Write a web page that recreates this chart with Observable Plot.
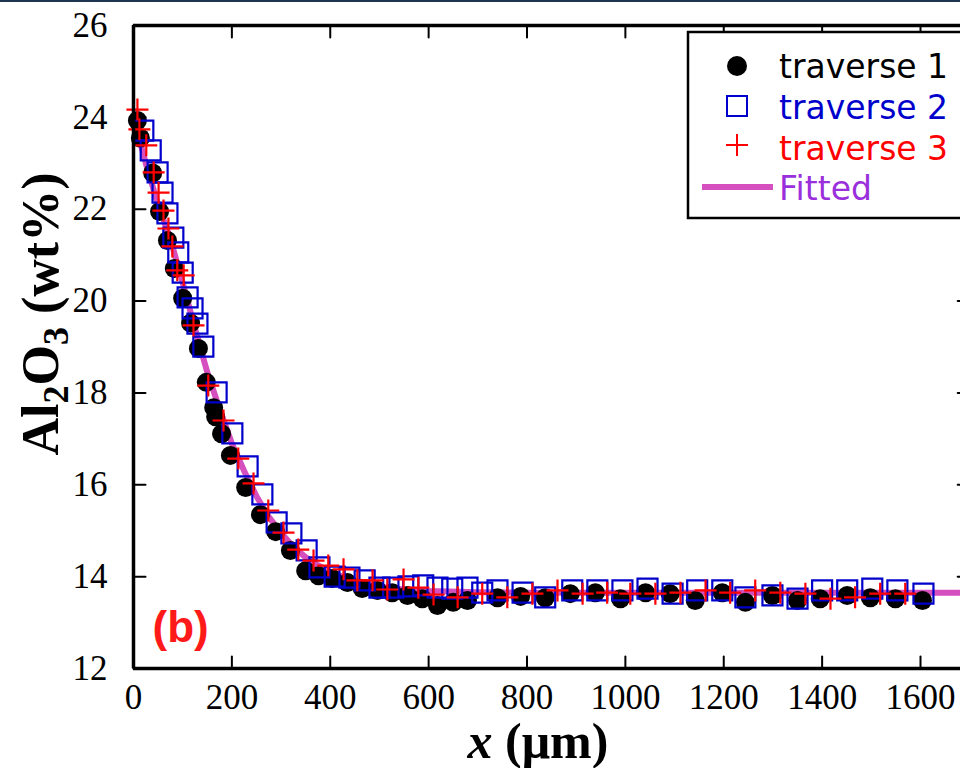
<!DOCTYPE html>
<html><head><meta charset="utf-8">
<script src="https://cdn.jsdelivr.net/npm/d3@7"></script>
<script src="https://cdn.jsdelivr.net/npm/@observablehq/plot@0.6"></script>
<style>html,body{margin:0;padding:0;background:#fff;overflow:hidden;width:960px;height:768px}</style>
</head><body><div id="chart"></div>
<script>
const xTicks = [0, 200, 400, 600, 800, 1000, 1200, 1400, 1600];
const yTicks = [12, 14, 16, 18, 20, 22, 24, 26];

const traverse1 = [[8,23.93],[14,23.55],[39,22.79],[53,21.95],[69,21.32],[83,20.71],[100,20.06],[116,19.52],[132,18.97],[148,18.23],[163,17.68],[167,17.48],[179,17.11],[197,16.64],[228,15.94],[258,15.35],[289,14.98],[319,14.57],[350,14.13],[376,14.02],[404,13.96],[435,13.87],[465,13.74],[496,13.70],[526,13.65],[557,13.59],[587,13.52],[618,13.37],[650,13.44],[679,13.48],[740,13.54],[787,13.57],[837,13.54],[888,13.63],[939,13.65],[990,13.52],[1041,13.65],[1091,13.63],[1142,13.48],[1197,13.65],[1244,13.44],[1299,13.59],[1350,13.48],[1396,13.52],[1451,13.59],[1498,13.54],[1549,13.52],[1604,13.48]];

const traverse2 = [[20,23.71],[35,23.28],[49,22.80],[59,22.36],[69,21.91],[81,21.38],[91,21.06],[100,20.62],[110,20.08],[120,19.84],[130,19.51],[142,19.01],[169,18.01],[201,17.12],[232,16.40],[262,15.79],[291,15.18],[321,14.94],[352,14.57],[378,14.20],[409,14.00],[439,13.98],[470,13.92],[500,13.76],[528,13.76],[559,13.79],[589,13.81],[618,13.76],[648,13.74],[679,13.76],[709,13.65],[740,13.70],[791,13.65],[837,13.55],[892,13.70],[943,13.70],[994,13.70],[1045,13.74],[1096,13.63],[1146,13.70],[1197,13.70],[1244,13.55],[1299,13.59],[1350,13.52],[1400,13.70],[1451,13.70],[1502,13.74],[1553,13.70],[1606,13.63]];

const traverse3 = [[8,24.17],[12,23.74],[26,23.39],[41,22.80],[51,22.36],[61,21.97],[71,21.58],[79,21.19],[89,20.67],[102,20.56],[122,19.47],[152,18.16],[183,17.40],[213,16.57],[244,16.03],[274,15.44],[305,14.96],[335,14.59],[366,14.35],[396,14.24],[427,14.16],[455,13.92],[486,13.92],[516,13.72],[549,13.94],[579,13.76],[610,13.61],[659,13.55],[709,13.63],[760,13.55],[811,13.63],[862,13.70],[913,13.63],[963,13.65],[1010,13.63],[1061,13.63],[1112,13.65],[1163,13.70],[1213,13.65],[1264,13.70],[1315,13.65],[1366,13.63],[1417,13.52],[1467,13.55],[1518,13.63],[1569,13.63]];

const fitX = [0, 25, 50, 75, 100, 125, 150, 175, 200, 225, 250, 275, 300, 325, 350, 375, 400, 450, 500, 550, 600, 700, 800, 1000, 1750];
const fitY = [24.0, 23.0, 22.1, 21.35, 20.4, 19.4, 18.45, 17.65, 16.9, 16.3, 15.75, 15.3, 14.95, 14.65, 14.42, 14.25, 14.1, 13.9, 13.78, 13.72, 13.69, 13.66, 13.65, 13.65, 13.65];
const fitted = fitX.map((x, i) => ({x, y: fitY[i]}));

const legendLabels = ["traverse 1", "traverse 2", "traverse 3", "Fitted"];
const colors = {t1: "#000000", t2: "#0000cc", t3: "#ff0000", fit: "#d64fbf", fitText: "#9a2fdc"};

const tickShape = {draw(ctx, l) { ctx.moveTo(0, 0); ctx.lineTo(0, -l); }};
const plusSym = {draw(ctx, size) { const r = Math.sqrt(size / Math.PI); ctx.moveTo(-r, 0); ctx.lineTo(r, 0); ctx.moveTo(0, -r); ctx.lineTo(0, r); }};
const squareSym = {draw(ctx, size) { const r = Math.sqrt(size / Math.PI); ctx.rect(-r, -r, 2 * r, 2 * r); }};

const serif = "Liberation Serif";
const X = d => d[0], Y = d => d[1];
const chart = Plot.plot({
  width: 960, height: 768,
  marginLeft: 133, marginRight: 0, marginTop: 25, marginBottom: 100,
  style: {fontFamily: serif, fontSize: "34px", background: "white", color: "black"},
  x: {domain: [0, 1600], range: [133, 920], axis: null},
  y: {domain: [12, 26], range: [668, 25], axis: null},
  marks: [
    Plot.text(xTicks, {x: d => d, y: 12, dy: 29, text: d => String(d), fontFamily: serif, fontSize: 35, fill: "black", lineAnchor: "middle"}),
    Plot.text(yTicks, {x: 0, y: d => d, dx: -26, text: d => String(d), fontFamily: serif, fontSize: 35, fill: "black", textAnchor: "end", lineAnchor: "middle"}),
    Plot.vector(xTicks, {x: d => d, y: 12, length: 12, rotate: 0, anchor: "start", shape: tickShape, stroke: "black", strokeWidth: 2}),
    Plot.vector(xTicks, {x: d => d, y: 26, length: 12, rotate: 180, anchor: "start", shape: tickShape, stroke: "black", strokeWidth: 2}),
    Plot.vector(yTicks, {x: 0, y: d => d, length: 12, rotate: 90, anchor: "start", shape: tickShape, stroke: "black", strokeWidth: 2}),
    Plot.vector(yTicks, {x: 1700, y: d => d, length: 12, rotate: 270, anchor: "start", shape: tickShape, stroke: "black", strokeWidth: 2}),
    Plot.line(fitted, {x: "x", y: "y", stroke: colors.fit, strokeWidth: 6}),
    Plot.dot(traverse1, {x: X, y: Y, r: 9.5, fill: colors.t1}),
    Plot.dot(traverse2, {x: X, y: Y, r: 10, symbol: squareSym, fill: "none", stroke: colors.t2, strokeWidth: 2.2}),
    Plot.dot(traverse3, {x: X, y: Y, r: 11, symbol: plusSym, fill: "none", stroke: colors.t3, strokeWidth: 2.2}),
    Plot.ruleY([12, 26], {stroke: "black", strokeWidth: 3.5}),
    Plot.ruleX([0, 1700], {stroke: "black", strokeWidth: 3.5}),
    Plot.text(["(b)"], {frameAnchor: "bottom-left", dx: 19, dy: -41, lineAnchor: "middle", textAnchor: "start", fill: "#ff1a1a", fontFamily: "Liberation Sans", fontWeight: "bold", fontSize: 44})
  ]
});
document.getElementById("chart").appendChild(chart);

const svg = d3.select(chart);

// top border artifact
svg.append("rect").attr("x", 0).attr("y", 0).attr("width", 960).attr("height", 2).attr("fill", "#1c3550");

// x axis title
const xt = svg.append("text").attr("x", 538).attr("y", 758).attr("text-anchor", "middle")
  .attr("font-family", serif).attr("font-weight", "bold").attr("font-size", 50).attr("fill", "black");
xt.append("tspan").attr("font-style", "italic").text("x");
xt.append("tspan").text(" (μm)");

// y axis title
const yt = svg.append("text").attr("transform", "translate(58,314) rotate(-90)").attr("text-anchor", "middle")
  .attr("font-family", serif).attr("font-weight", "bold").attr("font-size", 52).attr("fill", "black");
yt.append("tspan").text("Al");
yt.append("tspan").attr("font-size", 36).attr("dy", 10).text("2");
yt.append("tspan").attr("dy", -10).text("O");
yt.append("tspan").attr("font-size", 36).attr("dy", 10).text("3");
yt.append("tspan").attr("dy", -10).text(" (wt%)");

// legend
const lg = svg.append("g").attr("text-anchor", "start");
lg.append("rect").attr("x", 688).attr("y", 32).attr("width", 300).attr("height", 186).attr("fill", "white").attr("stroke", "black").attr("stroke-width", 2.5);
const lf = "DejaVu Sans";
const rows = [
  {label: legendLabels[0], color: colors.t1, base: 78},
  {label: legendLabels[1], color: colors.t2, base: 119},
  {label: legendLabels[2], color: colors.t3, base: 160},
  {label: legendLabels[3], color: colors.fitText, base: 200}
];
rows.forEach(r => lg.append("text").attr("x", 779).attr("y", r.base).attr("text-anchor", "start").attr("font-family", lf).attr("font-size", 33).attr("fill", r.color).text(r.label));
lg.append("circle").attr("cx", 737).attr("cy", 66).attr("r", 10).attr("fill", colors.t1);
lg.append("rect").attr("x", 727).attr("y", 96).attr("width", 20).attr("height", 20).attr("fill", "none").attr("stroke", colors.t2).attr("stroke-width", 2);
lg.append("path").attr("d", "M726,145H748M737,134V156").attr("stroke", colors.t3).attr("stroke-width", 2);
lg.append("line").attr("x1", 702).attr("x2", 773).attr("y1", 187).attr("y2", 187).attr("stroke", colors.fit).attr("stroke-width", 6);
</script></body></html>
